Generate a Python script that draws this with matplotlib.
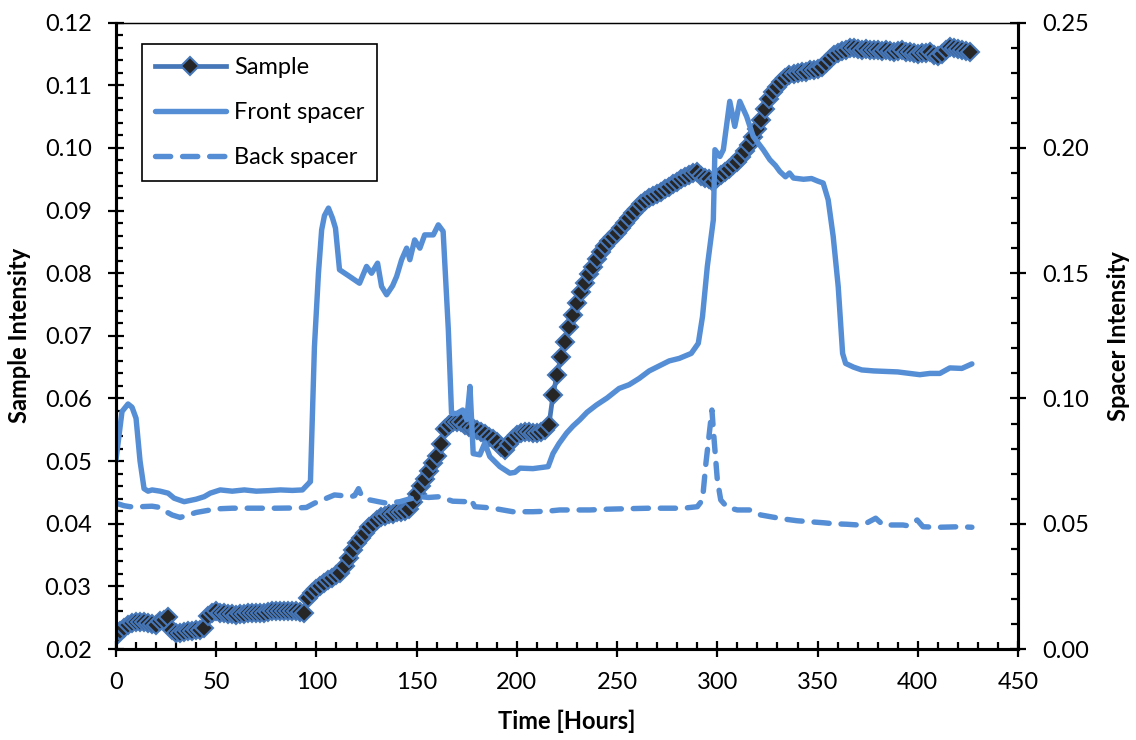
import numpy as np
import matplotlib
matplotlib.use("Agg")
import matplotlib.pyplot as plt
from matplotlib.ticker import MultipleLocator, FormatStrFormatter
from matplotlib.lines import Line2D

plt.rcParams['font.family'] = ['Lato', 'DejaVu Sans']

# ---------------- data ----------------
sample_t = np.arange(0, 428, 2)
sample_v = [
    0.0220, 0.0228, 0.0234, 0.0239, 0.0242, 0.0243, 0.0243, 0.0243, 0.0242, 0.0240,
    0.0239, 0.0244, 0.0247, 0.0251, 0.0230, 0.0226, 0.0226, 0.0227, 0.0228, 0.0229,
    0.0230, 0.0231, 0.0234, 0.0252, 0.0258, 0.0260, 0.0258, 0.0257, 0.0256, 0.0256,
    0.0255, 0.0256, 0.0256, 0.0257, 0.0257, 0.0257, 0.0258, 0.0258, 0.0259, 0.0260,
    0.0260, 0.0261, 0.0261, 0.0260, 0.0260, 0.0260, 0.0259, 0.0258, 0.0282, 0.0289,
    0.0296, 0.0301, 0.0306, 0.0310, 0.0314, 0.0318, 0.0322, 0.0332, 0.0345, 0.0358,
    0.0370, 0.0378, 0.0386, 0.0394, 0.0400, 0.0406, 0.0411, 0.0413, 0.0415, 0.0416,
    0.0418, 0.0419, 0.0421, 0.0424, 0.0435, 0.0447, 0.0460, 0.0472, 0.0485, 0.0497,
    0.0508, 0.0528, 0.0552, 0.0558, 0.0562, 0.0563, 0.0562, 0.0558, 0.0555, 0.0553,
    0.0550, 0.0546, 0.0543, 0.0539, 0.0535, 0.0530, 0.0522, 0.0518, 0.0528, 0.0536,
    0.0542, 0.0545, 0.0546, 0.0546, 0.0545, 0.0545, 0.0547, 0.0550, 0.0558, 0.0605,
    0.0638, 0.0666, 0.0690, 0.0714, 0.0734, 0.0752, 0.0770, 0.0785, 0.0798, 0.0810,
    0.0822, 0.0834, 0.0843, 0.0851, 0.0858, 0.0865, 0.0872, 0.0880, 0.0888, 0.0896,
    0.0903, 0.0911, 0.0916, 0.0920, 0.0924, 0.0927, 0.0930, 0.0934, 0.0938, 0.0942,
    0.0946, 0.0950, 0.0953, 0.0957, 0.0960, 0.0961, 0.0955, 0.0952, 0.0950, 0.0946,
    0.0952, 0.0957, 0.0962, 0.0966, 0.0972, 0.0978, 0.0985, 0.0995, 0.1005, 0.1018,
    0.1030, 0.1045, 0.1062, 0.1078, 0.1090, 0.1098, 0.1105, 0.1112, 0.1117, 0.1118,
    0.1120, 0.1122, 0.1122, 0.1124, 0.1124, 0.1126, 0.1130, 0.1136, 0.1142, 0.1148,
    0.1152, 0.1155, 0.1157, 0.1159, 0.1160, 0.1158, 0.1157, 0.1158, 0.1157, 0.1156,
    0.1157, 0.1155, 0.1156, 0.1155, 0.1154, 0.1155, 0.1156, 0.1154, 0.1153, 0.1152,
    0.1150, 0.1151, 0.1152, 0.1153, 0.1149, 0.1147, 0.1150, 0.1157, 0.1161, 0.1160,
    0.1158, 0.1156, 0.1155, 0.1153,
]

front_t = [0, 3, 6, 8, 10, 12, 14, 16, 18, 22, 26, 29, 34, 40, 44, 47, 52, 58, 64, 70,
           76, 82, 88, 93, 96, 97, 99, 101, 102.6, 104, 106, 108, 109.5, 111.5, 116,
           121.5, 125, 127.5, 130.5, 132.5, 135, 138, 140, 142.5, 145, 146.6, 149,
           151.6, 154, 158.3, 160.8, 163.2, 165.8, 167.4, 170, 173, 175, 176.6, 178.2,
           181.5, 184, 186.5, 191.5, 196.5, 199, 201.5, 208, 215.6, 218, 221, 224.8,
           228, 231.4, 235, 239.7, 245, 251, 256, 261, 266, 271, 276, 281, 287, 290.5,
           292.6, 295, 298, 298.8, 301.3, 303, 306.2, 308.7, 311.2, 314.6, 317.9, 322.9,
           326.2, 329, 331.2, 334, 336, 338, 343, 347, 350, 352.8, 355.3, 357.8, 360.3,
           362.5, 364, 368, 372, 378, 384, 390, 396, 401, 406, 411, 416, 422, 427]
front_v = [0.0755, 0.0948, 0.0978, 0.0965, 0.0921, 0.0750, 0.0640, 0.0630, 0.0635, 0.0630,
           0.0622, 0.0602, 0.0588, 0.0598, 0.0608, 0.0622, 0.0635, 0.0630, 0.0635, 0.0630,
           0.0632, 0.0635, 0.0633, 0.0635, 0.0660, 0.0668, 0.1207, 0.1500, 0.1673, 0.1730,
           0.1760, 0.1720, 0.1680, 0.1514, 0.1490, 0.1460, 0.1527, 0.1500, 0.1540, 0.1447,
           0.1414, 0.1450, 0.1487, 0.1554, 0.1600, 0.1554, 0.1633, 0.1600, 0.1653, 0.1653,
           0.1693, 0.1667, 0.1274, 0.0941, 0.0940, 0.0954, 0.0915, 0.1048, 0.0780, 0.0775,
           0.0822, 0.0768, 0.0728, 0.0702, 0.0705, 0.0722, 0.0720, 0.0728, 0.0780, 0.0820,
           0.0862, 0.0890, 0.0915, 0.0945, 0.0974, 0.1002, 0.1040, 0.1055, 0.1080, 0.1110,
           0.1130, 0.1150, 0.1160, 0.1180, 0.1220, 0.1327, 0.1527, 0.1713, 0.1993, 0.1966,
           0.1993, 0.2186, 0.2086, 0.2186, 0.2126, 0.2046, 0.1993, 0.1953, 0.1930, 0.1906,
           0.1885, 0.1900, 0.1880, 0.1875, 0.1878, 0.1868, 0.1860, 0.1793, 0.1647, 0.1447,
           0.1180, 0.1140, 0.1125, 0.1114, 0.1110, 0.1108, 0.1106, 0.1100, 0.1095, 0.1100,
           0.1100, 0.1122, 0.1120, 0.1138]

back_t = [0, 4, 7, 12, 18, 22, 25, 28, 32, 36, 40, 47, 52, 58, 70, 80, 90, 95, 99, 103,
          109, 113, 117, 119, 121, 122.5, 126.7, 131, 135, 141.6, 146, 151.6, 156, 161.6,
          165, 168, 175, 177, 179, 184, 188, 193, 198, 208, 215, 221.4, 230, 236.4, 245,
          255, 266, 275, 283, 290, 292.6, 294.3, 296, 297.3, 298.4, 300, 301.7, 305, 310,
          316, 321.7, 328, 334, 339.8, 346, 352.8, 358, 364.5, 370.3, 375, 379, 382.7,
          388, 392.6, 395, 399.7, 402.6, 406, 411, 416, 421, 427]
back_v = [0.0582, 0.0572, 0.0568, 0.0568, 0.0570, 0.0565, 0.0548, 0.0535, 0.0525, 0.0535,
          0.0545, 0.0555, 0.0560, 0.0562, 0.0562, 0.0562, 0.0563, 0.0565, 0.0582, 0.0595,
          0.0615, 0.0612, 0.0608, 0.0612, 0.0640, 0.0612, 0.0595, 0.0588, 0.0582, 0.0588,
          0.0598, 0.0608, 0.0605, 0.0608, 0.0598, 0.0590, 0.0588, 0.0598, 0.0568, 0.0565,
          0.0562, 0.0555, 0.0548, 0.0548, 0.0550, 0.0555, 0.0555, 0.0555, 0.0558, 0.0560,
          0.0562, 0.0562, 0.0562, 0.0568, 0.0595, 0.0741, 0.0861, 0.0954, 0.0835, 0.0675,
          0.0595, 0.0565, 0.0555, 0.0555, 0.0535, 0.0526, 0.0518, 0.0512, 0.0508, 0.0504,
          0.0500, 0.0498, 0.0495, 0.0505, 0.0522, 0.0495, 0.0495, 0.0495, 0.0492, 0.0515,
          0.0488, 0.0487, 0.0486, 0.0487, 0.0488, 0.0486]

labels = ["Sample", "Front spacer", "Back spacer"]

# ---------------- style ----------------
line_blue = "#4677B8"
spacer_blue = "#558ED5"
marker_fill = "#262626"
FS = 17
LW_S = 3.4
LW_F = 3.9
MS = 9.0
DASH = (2.8, 2.2)

fig = plt.figure(figsize=(11.36, 7.40), dpi=100)
ax = fig.add_axes([116 / 1136, 1 - 649 / 740, (1018 - 116) / 1136, (649 - 22.7) / 740])
ax2 = ax.twinx()

ax.plot(sample_t, sample_v, color=line_blue, lw=LW_S, marker='D', ms=MS,
        mfc=marker_fill, mec=line_blue, mew=1.5, zorder=3)
ax2.plot(front_t, front_v, color=spacer_blue, lw=LW_F, solid_joinstyle='round',
         solid_capstyle='round')
ax2.plot(back_t, back_v, color=spacer_blue, lw=LW_F, dashes=DASH,
         dash_capstyle='round', dash_joinstyle='round')

ax.set_xlim(0, 450)
ax.set_ylim(0.02, 0.12)
ax2.set_ylim(0.0, 0.25)

ax.xaxis.set_major_locator(MultipleLocator(50))
ax.xaxis.set_minor_locator(MultipleLocator(10))
ax.yaxis.set_major_locator(MultipleLocator(0.01))
ax.yaxis.set_minor_locator(MultipleLocator(0.002))
ax.yaxis.set_major_formatter(FormatStrFormatter('%.2f'))
ax2.yaxis.set_major_locator(MultipleLocator(0.05))
ax2.yaxis.set_minor_locator(MultipleLocator(0.01))
ax2.yaxis.set_major_formatter(FormatStrFormatter('%.2f'))

for a in (ax, ax2):
    for s in a.spines.values():
        s.set_color('black')
    a.spines['top'].set_linewidth(0.9)
    a.spines['left'].set_linewidth(2.2)
    a.spines['bottom'].set_linewidth(2.2)
    a.spines['right'].set_linewidth(2.2)

ax.tick_params(axis='both', which='major', direction='inout', length=11, width=1.6,
               labelsize=FS, color='black')
ax.tick_params(axis='both', which='minor', direction='in', length=5, width=1.6,
               color='black')
ax.tick_params(axis='y', which='major', pad=12)
ax.tick_params(axis='x', which='major', pad=11)
ax.tick_params(axis='x', which='both', top=False)
ax2.tick_params(axis='y', which='major', direction='inout', length=11, width=1.6,
                labelsize=FS, pad=12, color='black')
ax2.tick_params(axis='y', which='minor', direction='in', length=5, width=1.6,
                color='black')

ax.set_xlabel("Time [Hours]", fontsize=FS, fontweight='bold', labelpad=12)
ax.set_ylabel("Sample Intensity", fontsize=FS, fontweight='bold', labelpad=10)
ax2.set_ylabel("Spacer Intensity", fontsize=FS, fontweight='bold', labelpad=13)

handles = [
    Line2D([], [], color=line_blue, lw=LW_S, marker='D', ms=MS, mfc=marker_fill,
           mec=line_blue, mew=1.5),
    Line2D([], [], color=spacer_blue, lw=LW_F, solid_capstyle='round'),
    Line2D([], [], color=spacer_blue, lw=LW_F, dashes=DASH, dash_capstyle='round'),
]
leg = ax2.legend(handles, labels, loc='upper left', bbox_to_anchor=(0.0285, 0.966),
                 borderaxespad=0, fontsize=FS, frameon=True, fancybox=False,
                 edgecolor='black', framealpha=1, numpoints=1, handlelength=3.0,
                 handletextpad=0.35, labelspacing=1.02, borderpad=0.55)
leg.get_frame().set_linewidth(1.2)

fig.savefig("out.png", dpi=100)
